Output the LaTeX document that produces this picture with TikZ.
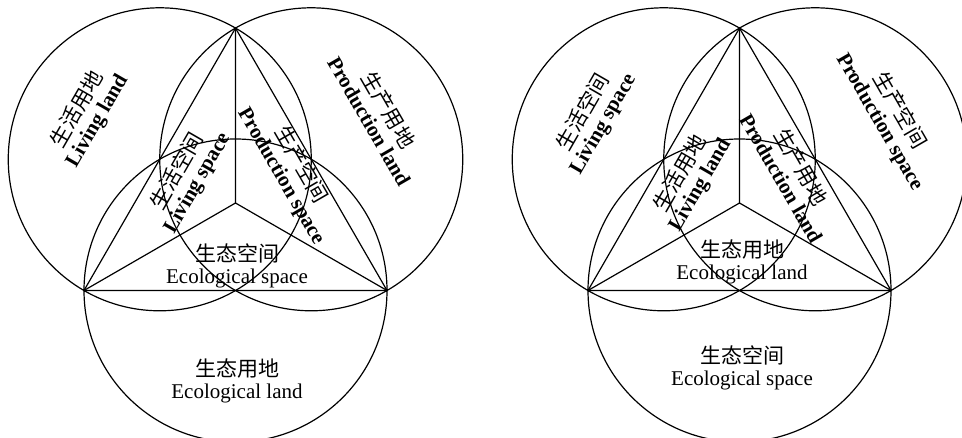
\documentclass[tikz,border=0pt]{standalone}
\usepackage{fontspec}
\setmainfont{Liberation Serif}
\newfontfamily\cjk{Noto Sans CJK SC}
\usetikzlibrary{calc}

\begin{document}
\begin{tikzpicture}[x=0.5pt,y=0.5pt,line width=0.6pt,
  lab/.style={align=center,inner sep=0pt,font=\fontsize{10.5pt}{11pt}\selectfont}]
\clip(0,0)rectangle(962,438);
% two triangles with a circle on each side
\foreach \dx in {0,504}{
\begin{scope}[shift={(\dx,0)}]
\coordinate (l) at (84,147.5);
\coordinate (r) at (387,147.5);
\coordinate (t) at (235.5,409.9);
\coordinate (o) at (235.5,235);
\draw(l)--(t)--(r)--cycle;
\draw(o)--(l) (o)--(t) (o)--(r);
\draw($(l)!0.5!(t)$)circle[radius=75.75pt]
($(t)!0.5!(r)$)circle[radius=75.75pt]
($(l)!0.5!(r)$)circle[radius=75.75pt];
\end{scope}}
% left: land outside, space inside
\node[lab,rotate=60](livland) at (87,323){{\cjk 生活用地}\\\textbf{Living land}};
\node[lab,rotate=-60](proland) at (380,323){{\cjk 生产用地}\\\textbf{Production land}};
\node[lab,rotate=60](livspace) at (187,261){{\cjk 生活空间}\\\textbf{Living space}};
\node[lab,rotate=-60](prospace) at (291.5,267.5){{\cjk 生产空间}\\\textbf{Production space}};
\node[lab](ecospace) at (237,172){{\cjk 生态空间}\\Ecological space};
\node[lab](ecoland) at (237,57){{\cjk 生态用地}\\Ecological land};
% right: space outside, land inside
\node[lab,rotate=60](livspace2) at (593,320){{\cjk 生活空间}\\\textbf{Living space}};
\node[lab,rotate=-60](prospace2) at (890,322){{\cjk 生产空间}\\\textbf{Production space}};
\node[lab,rotate=60](livland2) at (690,259){{\cjk 生活用地}\\\textbf{Living land}};
\node[lab,rotate=-60](proland2) at (792,266){{\cjk 生产用地}\\\textbf{Production land}};
\node[lab](ecoland2) at (742,176){{\cjk 生态用地}\\Ecological land};
\node[lab](ecospace2) at (742,70){{\cjk 生态空间}\\Ecological space};
\end{tikzpicture}
\end{document}
